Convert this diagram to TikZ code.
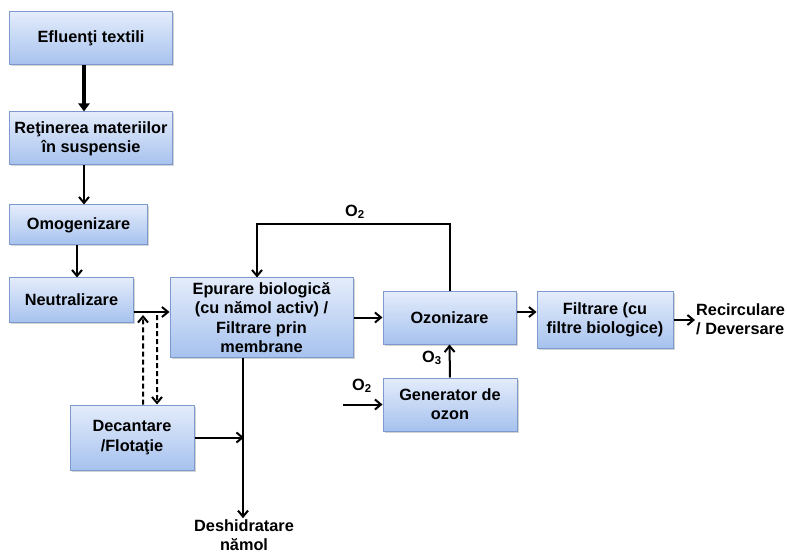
\documentclass[tikz,border=0pt]{standalone}
\usepackage{fontspec}
\setmainfont{Liberation Sans}
\usetikzlibrary{arrows.meta,shadows}

\definecolor{boxtop}{RGB}{228,236,251}
\definecolor{boxbot}{RGB}{166,194,238}
\definecolor{boxline}{RGB}{124,154,206}

\tikzset{
  stage/.style={draw=boxline, line width=1bp, top color=boxtop, bottom color=boxbot,
    drop shadow={opacity=0.35, shadow xshift=1.5bp, shadow yshift=-1.5bp},
    align=center, inner sep=2bp, font=\fontsize{16.3bp}{19.3bp}\selectfont\bfseries},
  lab/.style={inner sep=1bp, font=\fontsize{16.3bp}{19.3bp}\selectfont\bfseries},
  flow/.style={line width=2bp, -{Straight Barb[length=6bp,width=10bp,line width=2bp]}},
  bigflow/.style={line width=3.2bp, -{Triangle[length=8bp,width=11bp]}}
}

\begin{document}
\begin{tikzpicture}[x=1bp,y=-1bp]
\useasboundingbox (0,0) rectangle (787,553);

\node[stage, minimum width=162bp, minimum height=53bp] (eff) at (91,38.5) {Efluenţi textili};
\node[stage, minimum width=162bp, minimum height=53bp] (ret) at (91,138.5) {Reţinerea materiilor\\în suspensie};
\node[stage, minimum width=137bp, minimum height=40bp] (omo) at (78.5,225) {Omogenizare};
\node[stage, minimum width=123bp, minimum height=44bp] (neu) at (71.5,300) {Neutralizare};
\node[stage, minimum width=183bp, minimum height=79bp] (epu) at (261.5,317.5) {Epurare biologică\\(cu nămol activ) /\\Filtrare prin\\membrane};
\node[stage, minimum width=124bp, minimum height=65bp] (dec) at (132,437.5) {Decantare\\/Flotaţie};
\node[stage, minimum width=133bp, minimum height=52bp] (ozo) at (449.5,318) {Ozonizare};
\node[stage, minimum width=134bp, minimum height=53bp] (gen) at (450,404.5) {Generator de\\ozon};
\node[stage, minimum width=136bp, minimum height=56bp] (fil) at (605,320) {Filtrare (cu\\filtre biologice)};

\node[lab, anchor=west, align=left] (rec) at (695,319) {Recirculare\\/ Deversare};
\node[lab, align=center] (des) at (244,535) {Deshidratare\\nămol};
\node[lab] (o2top) at (355,212) {O\textsubscript{2}};
\node[lab] (o2gen) at (362,386) {O\textsubscript{2}};
\node[lab] (o3) at (432,358) {O\textsubscript{3}};

\coordinate (o2src) at (343,404.5);
\coordinate (decup) at (143,315);
\coordinate (decdn) at (157,315);

\draw[bigflow] ([xshift=-7bp]eff.south) -- ([xshift=-7bp]ret.north);
\draw[flow] ([xshift=-7bp]ret.south) -- ([xshift=-7bp]ret.south |- omo.north);
\draw[flow] ([xshift=-1.5bp]omo.south) -- ([xshift=-1.5bp]omo.south |- neu.north);
\draw[flow] ([yshift=-12bp]neu.east) -- ([yshift=-12bp]neu.east -| epu.west);
\draw[flow, dashed, dash pattern=on 5bp off 3bp] ([xshift=11bp]dec.north) -- (decup);
\draw[flow, dashed, dash pattern=on 5bp off 3bp] (decdn) -- ([xshift=25bp]dec.north);
\draw[flow] ([xshift=-18.5bp]epu.south) -- ([xshift=-18.5bp]epu.south |- des.north);
\draw[flow] (dec.east) -- (dec.east -| des.north);
\draw[flow] (epu.east) -- (epu.east -| ozo.west);
\draw[flow] (ozo.north) -- ++(0,-67) -| ([xshift=-4.5bp]epu.north);
\draw[flow] ([yshift=6bp]ozo.east) -- ([yshift=6bp]ozo.east -| fil.west);
\draw[flow] (fil.east) -- (fil.east -| rec.west);
\draw[flow] (gen.north) -- (ozo.south);
\draw[flow] (o2src) -- (gen.west);
\end{tikzpicture}
\end{document}
